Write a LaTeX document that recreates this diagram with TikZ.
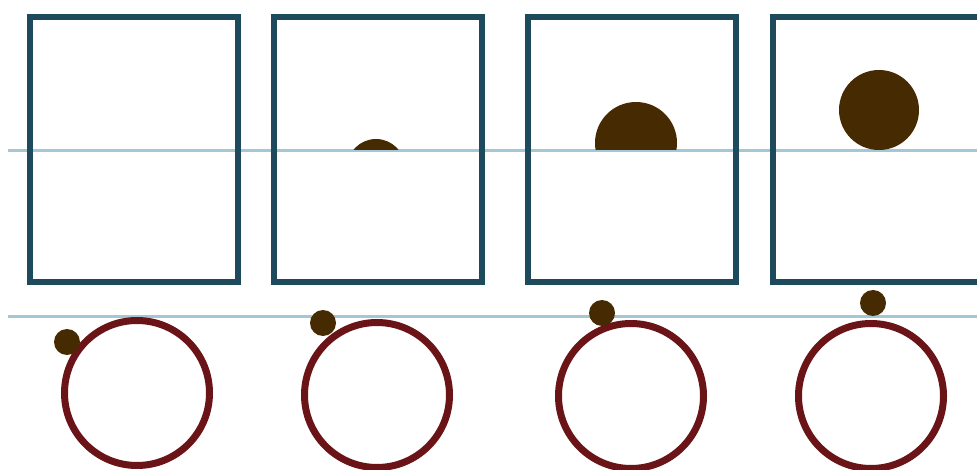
\documentclass[tikz,border=0pt]{standalone}
\usepackage{xcolor}
\usepackage{tikz}
\usetikzlibrary{positioning}
\definecolor{framecol}{HTML}{1E4A5E}
\definecolor{guidecol}{HTML}{A4C7D6}
\definecolor{wheelcol}{HTML}{6A1418}
\definecolor{ballcol}{HTML}{462A02}

\begin{document}
\begin{tikzpicture}[x=1pt, y=-1pt,
    frame/.style={draw=framecol, line width=5.5pt, minimum width=208pt,
                  minimum height=265pt, inner sep=0pt},
    wheel/.style={circle, draw=wheelcol, line width=7pt, minimum size=145pt, inner sep=0pt},
    pin/.style={circle, fill=ballcol, minimum size=26pt, inner sep=0pt},
    guide/.style={draw=guidecol, line width=3pt},
]
    \clip (0,0) rectangle (977,470);
    \fill[white] (0,0) rectangle (977,470);

    % Guide lines
    \draw[guide] (8,151) -- (977,151);
    \draw[guide] (8,316) -- (977,316);

    % Frames
    \node[frame] (frameA) at (134,149.5) {};
    \node[frame] (frameB) at (378,149.5) {};
    \node[frame] (frameC) at (632,149.5) {};
    \node[frame] (frameD) at (877,149.5) {};

    % Rising ball, cut at the guide line
    \begin{scope}
        \clip (frameB.north west) rectangle (frameD.south east |- 0,149.5);
        \fill[ballcol] (376,168) circle (29);
        \fill[ballcol] (636,143) circle (41);
        \fill[ballcol] (879,110) circle (40);
    \end{scope}

    % Wheels
    \node[wheel] (wheelA) at (137,393) {};
    \node[wheel] (wheelB) at (377,395) {};
    \node[wheel] (wheelC) at (631,396) {};
    \node[wheel] (wheelD) at (871,396) {};

    % Pins on the rim
    \node[pin] (pinA) at (67,342) {};
    \node[pin] (pinB) at (323,323) {};
    \node[pin] (pinC) at (602,313) {};
    \node[pin] (pinD) at (873,303) {};
\end{tikzpicture}
\end{document}
